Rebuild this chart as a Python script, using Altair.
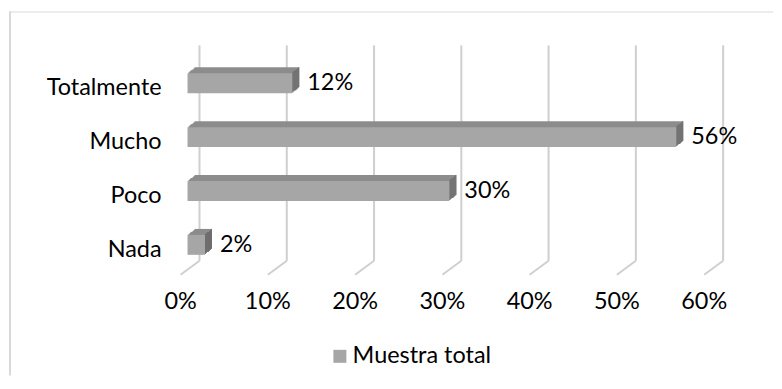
import altair as alt
import pandas as pd

categories = ["Totalmente", "Mucho", "Poco", "Nada"]
values = [0.12, 0.56, 0.30, 0.02]
value_labels = ["12%", "56%", "30%", "2%"]
series_name = "Muestra total"
ticks = [0.0, 0.1, 0.2, 0.3, 0.4, 0.5, 0.6]
tick_labels = ["0%", "10%", "20%", "30%", "40%", "50%", "60%"]

df = pd.DataFrame({"cat": categories, "val": values, "lab": value_labels,
                   "series": [series_name] * len(categories)})
tdf = pd.DataFrame({"t": ticks, "tl": tick_labels})
one = pd.DataFrame({"a": [0]})

W, H = 766, 365
FONT = "Lato"
FS = 23.5
FRONT = "#a6a6a6"
TOP = "#8c8c8c"
SIDE = "#6e6e6e"
GRID = "#cfcfcf"
DX, DY = 7, 6

xs = alt.Scale(domain=[0, 0.6], range=[179, 704])
ys = alt.Scale(domain=categories, range=[45, 261], paddingInner=0.63, paddingOuter=0.315)

X = alt.X("val:Q", scale=xs, axis=None)
Y = alt.Y("cat:N", scale=ys, axis=None, sort=categories)

layers = []

# border (top and left only)
layers.append(alt.Chart(one).mark_rule(color="#d9d9d9", strokeWidth=1).encode(
    x=alt.value(0), x2=alt.value(W), y=alt.value(0.5)))
layers.append(alt.Chart(one).mark_rule(color="#d9d9d9", strokeWidth=2).encode(
    x=alt.value(1), y=alt.value(0), y2=alt.value(H)))

# back-wall gridlines and floor diagonals
TX = alt.X("t:Q", scale=xs, axis=None)
layers.append(alt.Chart(tdf).mark_rule(color=GRID, strokeWidth=2, xOffset=12).encode(
    x=TX, y=alt.value(34), y2=alt.value(250)))
layers.append(alt.Chart(tdf).mark_rule(color=GRID, strokeWidth=2, xOffset=12, x2Offset=-7).encode(
    x=TX, x2="t:Q", y=alt.value(250), y2=alt.value(264)))

# tick labels
layers.append(alt.Chart(tdf).mark_text(font=FONT, fontSize=FS, color="#000000", dx=-7,
                                       align="center", baseline="middle").encode(
    x=TX, y=alt.value(291), text="tl:N"))

base = alt.Chart(df)

# extrusion (top face color)
for k in range(DX, 0, -1):
    dy = round(DY * k / DX)
    layers.append(base.mark_bar(color=TOP, xOffset=k, x2Offset=k, yOffset=-dy).encode(
        x=X, y=Y))
# side face columns
for k in range(1, DX + 1):
    dy = round(DY * k / DX)
    layers.append(base.mark_bar(color=SIDE, xOffset=k - 1, x2Offset=k, yOffset=-dy).encode(
        x=X, x2="val:Q", y=Y))

# front face
layers.append(base.mark_bar().encode(
    x=X, y=Y,
    color=alt.Color("series:N", scale=alt.Scale(range=[FRONT]),
                    legend=alt.Legend(title=None, orient="none", legendX=320, legendY=334,
                                      symbolType="square", symbolSize=169,
                                      symbolStrokeWidth=0, labelFont=FONT, labelFontSize=FS,
                                      labelColor="#000000", labelOffset=1, padding=0))))

# value labels
layers.append(base.mark_text(font=FONT, fontSize=FS, color="#000000", align="left",
                             baseline="middle", dx=15).encode(x=X, y=Y, text="lab:N"))

# category labels
layers.append(base.mark_text(font=FONT, fontSize=FS, color="#000000", align="right",
                             baseline="middle", dy=5).encode(
    x=alt.value(153), y=Y, text="cat:N"))

chart = alt.layer(*layers).properties(
    width=W, height=H,
    padding={"left": 0, "top": 2, "right": 0, "bottom": 0},
).configure_view(stroke=None)

chart.save("out.html", embed_options={"renderer": "svg", "actions": False})
